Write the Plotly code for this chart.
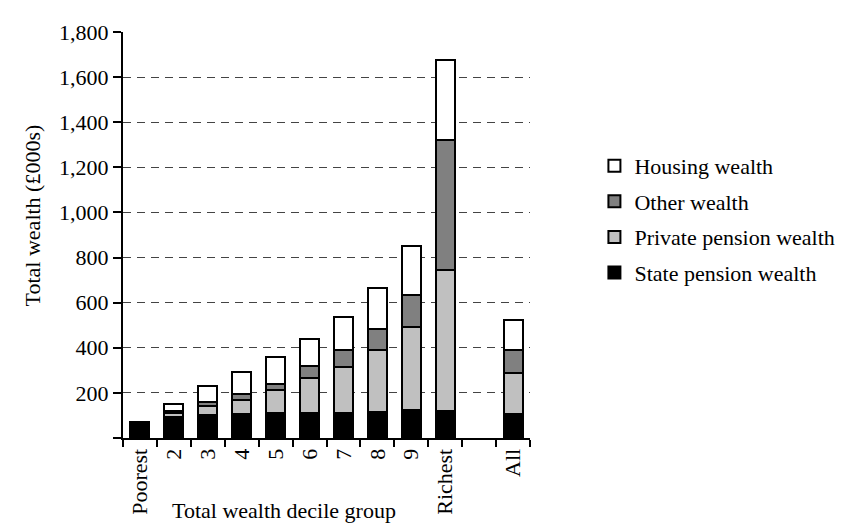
import plotly.graph_objects as go

categories = ["Poorest", "2", "3", "4", "5", "6", "7", "8", "9", "Richest", " ", "All"]
state_pension = [70, 91, 104, 108, 109, 109, 112, 117, 124, 121, None, 105]
private_pension = [0, 19, 40, 60, 102, 158, 202, 275, 370, 622, None, 184]
other_wealth = [0, 10, 17, 25, 29, 52, 77, 91, 142, 577, None, 101]
housing_wealth = [0, 32, 69, 99, 118, 118, 146, 182, 217, 358, None, 133]

y_ticks = [0, 200, 400, 600, 800, 1000, 1200, 1400, 1600, 1800]
y_ticktext = ["", "200", "400", "600", "800", "1,000", "1,200", "1,400", "1,600", "1,800"]

FONT = "Liberation Serif"

series = [
    ("State pension wealth", state_pension, "#000000", 4),
    ("Private pension wealth", private_pension, "#C0C0C0", 3),
    ("Other wealth", other_wealth, "#808080", 2),
    ("Housing wealth", housing_wealth, "#FFFFFF", 1),
]

fig = go.Figure()
for name, vals, col, rank in series:
    fig.add_trace(go.Bar(
        x=categories, y=vals, name=name, legendgroup=name, legendrank=rank,
        marker=dict(color=col, line=dict(color="#000000", width=2)),
    ))

W, H = 844, 524
L, R, T, B = 115, 312, 20, 94

fig.update_layout(
    width=W, height=H,
    margin=dict(l=L, r=R, t=T, b=B, pad=0),
    barmode="stack", bargap=0.44,
    paper_bgcolor="white", plot_bgcolor="white",
    font=dict(family=FONT, size=22, color="black"),
    showlegend=True,
    legend=dict(
        traceorder="grouped", tracegroupgap=4,
        x=(598 - L) / (W - L - R), xanchor="left",
        y=(H - B - 134) / (H - T - B), yanchor="top",
        font=dict(family=FONT, size=22, color="black"),
        bgcolor="rgba(0,0,0,0)", borderwidth=0,
    ),
    xaxis=dict(
        type="category", categoryorder="array", categoryarray=categories,
        showline=True, linecolor="black", linewidth=2,
        ticks="outside", tickson="boundaries", ticklen=7, tickwidth=2, tickcolor="black",
        tickangle=-90, showgrid=False, zeroline=False,
        tickfont=dict(family=FONT, size=22),
    ),
    yaxis=dict(
        range=[0, 1800], tickvals=y_ticks, ticktext=y_ticktext,
        showline=True, linecolor="black", linewidth=2,
        ticks="outside", ticklen=8, tickwidth=2, tickcolor="black",
        showgrid=True, gridcolor="#444444", gridwidth=1, griddash="8px,6px",
        zeroline=False, tickfont=dict(family=FONT, size=22),
    ),
    annotations=[
        dict(text="Total wealth decile group", xref="paper", yref="paper",
             x=(280 - L) / (W - L - R), y=(H - B - 503) / (H - T - B),
             xanchor="center", yanchor="middle", showarrow=False,
             font=dict(family=FONT, size=22)),
        dict(text="Total wealth (£000s)", xref="paper", yref="paper",
             x=(22 - L) / (W - L - R), y=(H - B - 205) / (H - T - B),
             xanchor="center", yanchor="middle", showarrow=False, textangle=-90,
             font=dict(family=FONT, size=22)),
    ],
)

fig.write_html("out.html")
